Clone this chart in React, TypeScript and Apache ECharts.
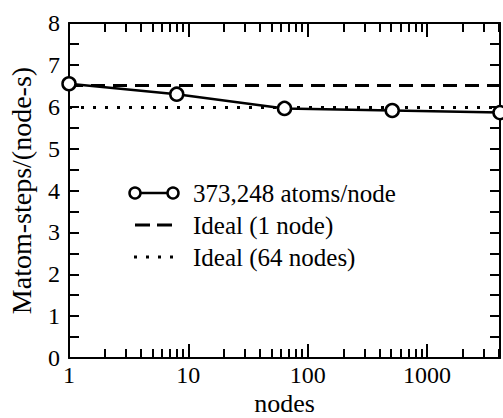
import React, { useEffect, useRef } from 'react';
import * as echarts from 'echarts';

// ---- data ----
const nodes = [1, 8, 64, 512, 4096];
const rate = [6.55, 6.3, 5.96, 5.91, 5.86];
const idealOneNode = 6.51;
const idealSixtyFourNodes = 5.98;
const xRange = [1, 4096];
const yRange = [0, 8];
const seriesNames = ['373,248 atoms/node', 'Ideal (1 node)', 'Ideal (64 nodes)'];
const xTitle = 'nodes';
const yTitle = 'Matom-steps/(node-s)';

const FONT = 'Liberation Serif';
const BLACK = '#000';

export default function App() {
  const ref = useRef<HTMLDivElement>(null);

  useEffect(() => {
    if (!ref.current) return;
    const chart = echarts.init(ref.current, undefined, { renderer: 'svg' });

    const lineStyle = { color: BLACK, width: 2 };
    const isPow10 = (v: number) => Math.abs(Math.log10(v) - Math.round(Math.log10(v))) < 1e-9;

    const xBase = (pos: 'bottom' | 'top', labels: boolean) => ({
      type: 'log',
      logBase: 10,
      position: pos,
      min: xRange[0],
      max: xRange[1],
      axisLine: { show: true, onZero: false, lineStyle },
      axisTick: { show: true, inside: true, length: 14, lineStyle },
      minorTick: { show: true, splitNumber: 9, length: 9, lineStyle },
      splitLine: { show: false },
      minorSplitLine: { show: false },
      axisLabel: {
        show: labels,
        margin: 5,
        color: BLACK,
        fontFamily: FONT,
        fontSize: 24,
        showMinLabel: true,
        showMaxLabel: true,
        hideOverlap: false,
        formatter: (v: number) => (isPow10(v) ? String(Math.round(v)) : ''),
      },
    });

    const yBase = (pos: 'left' | 'right', labels: boolean) => ({
      type: 'value',
      position: pos,
      min: yRange[0],
      max: yRange[1],
      interval: 0.5,
      axisLine: { show: true, onZero: false, lineStyle },
      axisTick: { show: true, inside: true, length: 10, lineStyle },
      splitLine: { show: false },
      axisLabel: {
        show: labels,
        margin: 9,
        color: BLACK,
        fontFamily: FONT,
        fontSize: 24,
        formatter: (v: number) => (Number.isInteger(v) ? String(v) : ''),
      },
    });

    const legendX0 = 135;
    const legendX1 = 173;
    const legendTextX = 193;
    const legendY = [193, 225, 257];
    const legendText = (i: number) => ({
      type: 'text',
      x: legendTextX,
      y: legendY[i],
      style: {
        text: seriesNames[i],
        fill: BLACK,
        fontFamily: FONT,
        fontSize: 25,
        verticalAlign: 'middle',
        align: 'left',
      },
    });

    chart.setOption({
      animation: false,
      backgroundColor: '#fff',
      textStyle: { fontFamily: FONT },
      grid: { left: 69, right: 3, top: 23, bottom: 60, containLabel: false, outerBoundsMode: 'none' },
      xAxis: [
        {
          ...xBase('bottom', true),
          name: xTitle,
          nameLocation: 'middle',
          nameGap: 32,
          nameMoveOverlap: false,
          nameTextStyle: { color: BLACK, fontFamily: FONT, fontSize: 26 },
        },
        xBase('top', false),
      ],
      yAxis: [
        {
          ...yBase('left', true),
          name: yTitle,
          nameLocation: 'middle',
          nameGap: 34,
          nameMoveOverlap: false,
          nameTextStyle: { color: BLACK, fontFamily: FONT, fontSize: 28 },
        },
        yBase('right', false),
      ],
      series: [
        {
          name: seriesNames[1],
          type: 'line',
          data: [[xRange[0], idealOneNode], [xRange[1], idealOneNode]],
          symbol: 'none',
          lineStyle: { color: BLACK, width: 3, type: [14, 8] },
          z: 2,
        },
        {
          name: seriesNames[2],
          type: 'line',
          data: [[xRange[0], idealSixtyFourNodes], [xRange[1], idealSixtyFourNodes]],
          symbol: 'none',
          lineStyle: { color: BLACK, width: 3, type: [3, 9] },
          z: 2,
        },
        {
          name: seriesNames[0],
          type: 'line',
          data: nodes.map((n, i) => [n, rate[i]]),
          symbol: 'circle',
          symbolSize: 13,
          clip: false,
          itemStyle: { color: '#fff', borderColor: BLACK, borderWidth: 2.5 },
          lineStyle: { color: BLACK, width: 2.5 },
          z: 3,
        },
      ],
      graphic: [
        {
          type: 'line',
          shape: { x1: legendX0, y1: legendY[0], x2: legendX1, y2: legendY[0] },
          style: { stroke: BLACK, lineWidth: 2.5 },
        },
        {
          type: 'circle',
          shape: { cx: legendX0, cy: legendY[0], r: 5.5 },
          style: { fill: '#fff', stroke: BLACK, lineWidth: 2.5 },
        },
        {
          type: 'circle',
          shape: { cx: legendX1, cy: legendY[0], r: 5.5 },
          style: { fill: '#fff', stroke: BLACK, lineWidth: 2.5 },
        },
        legendText(0),
        {
          type: 'line',
          shape: { x1: legendX0, y1: legendY[1], x2: legendX1, y2: legendY[1] },
          style: { stroke: BLACK, lineWidth: 3, lineDash: [15, 7] },
        },
        legendText(1),
        {
          type: 'line',
          shape: { x1: legendX0 - 1, y1: legendY[2], x2: legendX1, y2: legendY[2] },
          style: { stroke: BLACK, lineWidth: 3, lineDash: [3, 9] },
        },
        legendText(2),
      ],
    });

    return () => chart.dispose();
  }, []);

  return <div ref={ref} style={{ width: 503, height: 418, position: 'absolute', left: 0, top: 0 }} />;
}
